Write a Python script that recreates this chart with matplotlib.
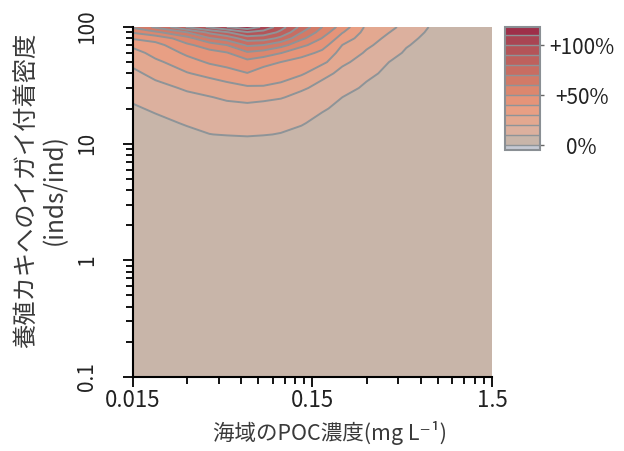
import matplotlib
matplotlib.use('Agg')
import matplotlib.pyplot as plt
from matplotlib.ticker import FixedLocator, NullFormatter

plt.rcParams['font.family'] = ['Noto Sans CJK JP', 'DejaVu Sans']

# POC concentration (x, mg/L) and mussel density on oysters (y, inds/ind)
poc = [0.015, 0.02, 0.03, 0.04, 0.05, 0.065, 0.08, 0.1, 0.13, 0.17,
       0.22, 0.3, 0.4, 0.5, 0.7, 1.0, 1.5]
density = [0.1, 9, 12, 15, 20, 25, 30, 40, 50, 60, 70, 80, 90, 100]

# % increase, one row per density value
increase = [
    [5, 5, 5, 5, 5, 5, 5, 5, 5, 5, 5, 5, 5, 5, 5, 5, 5],
    [5, 5, 5, 5, 5, 6, 6, 5, 5, 5, 5, 5, 5, 5, 5, 5, 5],
    [5, 6, 8, 9.9, 10.4, 10.7, 10.3, 9.7, 8.5, 6.5, 5, 5, 5, 5, 5, 5, 5],
    [6, 8, 10.8, 12.1, 12.9, 13.3, 12.8, 12.1, 10.5, 8, 6, 5, 5, 5, 5, 5, 5],
    [9, 11.2, 14.2, 15.9, 17.1, 17.6, 16.9, 16.2, 14, 10.8, 8, 6, 5, 5, 5, 5, 5],
    [11.5, 14.1, 17.7, 19.6, 21.5, 22.7, 21.9, 20.6, 17.4, 13.8, 10, 7.5, 5.5, 5, 5, 5, 5],
    [13.7, 17.1, 21.4, 24, 26.2, 28.6, 29.1, 27.5, 21.4, 16.8, 12.4, 8.7, 6.5, 5, 5, 5, 5],
    [18, 22.9, 29.4, 33.1, 36.2, 39.7, 35.7, 34.5, 31.4, 23, 17.3, 11.9, 8, 6, 5, 5, 5],
    [22.4, 28.2, 35.9, 41.3, 43.7, 46.9, 43.5, 39.9, 36.6, 32.2, 21.9, 15.3, 10, 7.5, 5, 5, 5],
    [26.7, 33.2, 42.2, 46.7, 49.4, 58.4, 55.7, 50.3, 43.4, 37.8, 25.9, 18.8, 12.6, 9, 5.5, 5, 5],
    [32.2, 37.2, 48.2, 55, 60, 71.8, 70, 63.7, 52.4, 43.8, 29.9, 21.8, 15.2, 10.6, 6, 5, 5],
    [41, 43.8, 56.5, 69.2, 74.5, 85.3, 84.5, 77.4, 62.3, 49.6, 35.2, 24, 17.8, 12.5, 6.5, 5, 5],
    [51, 58, 70, 82.3, 89.1, 99.1, 96, 87.7, 70.4, 54.8, 40.6, 26, 20.2, 14.8, 7.5, 5, 5],
    [62, 72, 91, 102, 110, 117, 108, 94, 77, 60, 45, 28, 22.2, 17.1, 8.5, 5, 5],
]

levels = [-5, 0, 10, 20, 30, 40, 50, 60, 70, 80, 90, 100, 110, 118]
line_levels = [10, 20, 30, 40, 50, 60, 70, 80, 90, 100, 110]
band_colors = ['#c5c9d3', '#c8b5a9', '#dcb09e', '#e3a890', '#e89f84', '#e59479',
               '#dc876e', '#d27a67', '#c86d62', '#be615d', '#b45458', '#a94553',
               '#9e2f49']
line_color = '#8e9498'

x_major = [0.015, 0.15, 1.5]
x_major_labels = ['0.015', '0.15', '1.5']
x_minor = [0.03, 0.045, 0.06, 0.075, 0.09, 0.105, 0.12, 0.135,
           0.3, 0.45, 0.6, 0.75, 0.9, 1.05, 1.2, 1.35]
y_major = [0.1, 1, 10, 100]
y_major_labels = ['0.1', '1', '10', '100']
y_minor = [m * d for d in (0.1, 1, 10) for m in range(2, 10)]

fig = plt.figure(figsize=(6.24, 4.51), dpi=100)
ax = fig.add_axes([0.2131, 0.1641, 0.5753, 0.776])
ax.set_xscale('log')
ax.set_yscale('log')

cf = ax.contourf(poc, density, increase, levels=levels, colors=band_colors)
cl = ax.contour(poc, density, increase, levels=line_levels,
                colors=line_color, linewidths=1.4)

ax.set_xlim(0.015, 1.5)
ax.set_ylim(0.1, 100)

ax.xaxis.set_major_locator(FixedLocator(x_major))
ax.xaxis.set_minor_locator(FixedLocator(x_minor))
ax.xaxis.set_minor_formatter(NullFormatter())
ax.set_xticklabels(x_major_labels, fontsize=16, color='#222222')
ax.yaxis.set_major_locator(FixedLocator(y_major))
ax.yaxis.set_minor_locator(FixedLocator(y_minor))
ax.yaxis.set_minor_formatter(NullFormatter())
ax.set_yticklabels(y_major_labels, fontsize=15, rotation=90, va='center',
                   color='#222222')

ax.tick_params(which='major', direction='out', length=7, width=1.3, color='black')
ax.tick_params(which='minor', direction='out', length=5, width=1.3, color='black')
ax.tick_params(axis='x', which='major', pad=2)
ax.tick_params(axis='y', which='major', pad=18)

for s in ['top', 'right']:
    ax.spines[s].set_visible(False)
for s in ['left', 'bottom']:
    ax.spines[s].set_linewidth(1.5)
    ax.spines[s].set_color('black')

fig.text(330 / 624, 1 - 433 / 451, '海域のPOC濃度(mg L⁻¹)', fontsize=15.5,
         ha='center', va='center', color='#3a3a3a')
fig.text(41 / 624, 1 - 190 / 451, '養殖カキへのイガイ付着密度\n(inds/ind)',
         fontsize=17.5, rotation=90, ha='center', va='center',
         multialignment='center', linespacing=1.1, color='#3a3a3a')

# colour key
cax = fig.add_axes([0.8093, 0.6674, 0.0561, 0.2727])
cbar = fig.colorbar(cf, cax=cax, ticks=[0, 50, 100], spacing='proportional')
for lv in levels[1:-1]:
    cax.axhline(lv, color=line_color, linewidth=1.0)
cbar.outline.set_edgecolor('#8a8f94')
cbar.outline.set_linewidth(1.5)
cax.tick_params(length=3, width=1, color='#666666', pad=27)
cax.set_yticklabels(['0%', '+50%', '+100%'], fontsize=15, ha='center',
                    color='#222222')

fig.savefig('out.png', dpi=100)
